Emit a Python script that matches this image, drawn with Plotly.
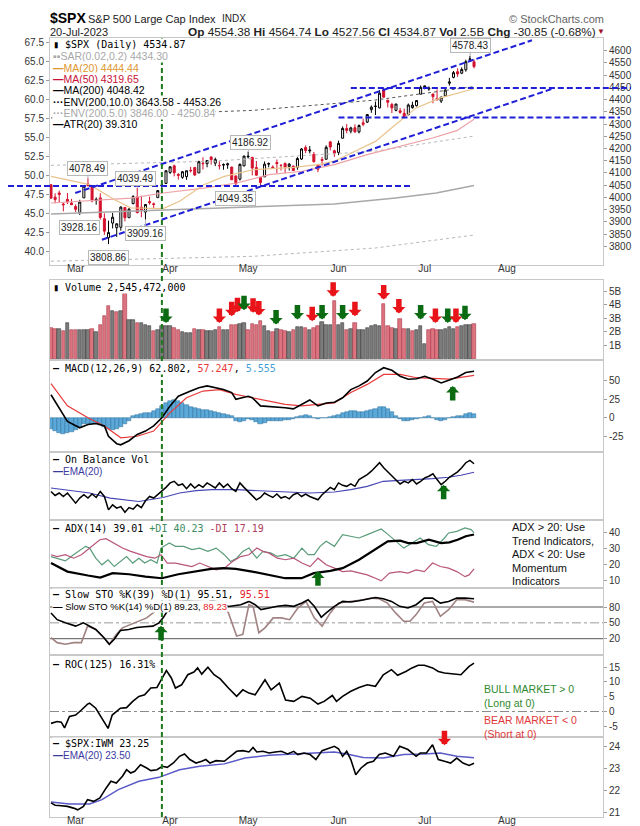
import plotly.graph_objects as go
import pandas as pd

# ---------------- calendar (trading days) ----------------
holidays = ["2023-04-07", "2023-05-29", "2023-06-19", "2023-07-04"]
cal = [d for d in pd.bdate_range("2023-02-21", "2023-08-31") if d.strftime("%Y-%m-%d") not in holidays]
n_days = 104
day_idx = list(range(n_days))
month_labels = ["Mar", "Apr", "May", "Jun", "Jul", "Aug"]
month_idx = [next(i for i, d in enumerate(cal) if d.month == m) for m in (3, 4, 5, 6, 7, 8)]

# ---------------- $SPX daily OHLC ----------------
opens = [4052, 4001, 4018, 3973, 3992, 3977, 3963, 3938, 3998, 4055,
         4048, 3987, 3998, 3913, 3835, 3895, 3876, 3878, 3959, 3917,
         3975, 4002, 3960, 3940, 3983, 3974, 3999, 4046, 4057, 4102,
         4129, 4094, 4082, 4085, 4111, 4122, 4100, 4140, 4138, 4165,
         4140, 4130, 4132, 4133, 4124, 4088, 4075, 4129, 4166, 4164,
         4122, 4082, 4084, 4136, 4124, 4143, 4132, 4139, 4127, 4128,
         4123, 4157, 4204, 4190, 4176, 4132, 4155, 4156, 4227, 4191,
         4184, 4242, 4282, 4271, 4285, 4268, 4305, 4308, 4359, 4372,
         4366, 4440, 4397, 4380, 4356, 4354, 4344, 4338, 4367, 4375,
         4422, 4450, 4443, 4423, 4405, 4394, 4415, 4467, 4491, 4514,
         4508, 4522, 4565, 4554.38]
highs = [4052, 4017, 4028, 3979, 4018, 3994, 3972, 3990, 4048, 4078.49,
         4050, 4000, 4017, 3935, 3905, 3937, 3894, 3964, 3959, 3956,
         4009, 4039.49, 4007, 3972, 4003, 3979, 4030, 4057, 4110, 4128,
         4134, 4099, 4108, 4109, 4125, 4125, 4150, 4164, 4152, 4169,
         4163, 4148, 4139, 4142, 4126, 4089, 4139, 4170, 4186.92, 4164,
         4149, 4083, 4147, 4143, 4131, 4155, 4133, 4143, 4141, 4130,
         4165, 4202, 4213, 4210, 4186, 4133, 4166, 4213, 4231, 4195,
         4232, 4290, 4300, 4289, 4299, 4298, 4322, 4340, 4376, 4392,
         4439, 4448, 4400, 4387, 4382, 4366, 4363, 4384, 4391, 4398,
         4458, 4456, 4454, 4423, 4442, 4412, 4443, 4489, 4517, 4528,
         4532, 4563, 4578.43, 4564.74]
lows = [3995, 3976, 3979, 3943, 3973, 3969, 3940, 3928.16, 3998, 4045,
        3980, 3970, 3909, 3847, 3808.86, 3873, 3838, 3864, 3902, 3917,
        3971, 3937, 3919, 3909.16, 3970, 3952, 3999, 4033, 4056, 4096,
        4086, 4073, 4076, 4072, 4102, 4087, 4100, 4114, 4123, 4134,
        4128, 4114, 4113, 4117, 4071, 4049.35, 4069, 4127, 4159, 4090,
        4088, 4048.28, 4084, 4123, 4116, 4099, 4110, 4099, 4110, 4109,
        4113, 4153, 4181, 4180, 4142, 4103, 4130, 4155, 4192, 4166,
        4173, 4242, 4262, 4262, 4264, 4262, 4291, 4304, 4346, 4337,
        4364, 4408, 4368, 4345, 4352, 4342, 4328, 4336, 4363, 4372,
        4422, 4442, 4436, 4385, 4397, 4386, 4411, 4457, 4487, 4493,
        4504, 4514, 4557, 4527.56]
closes = [3997, 3991, 4012, 3970, 3982, 3970, 3951, 3981, 4046, 4048,
          3986, 3992, 3918, 3862, 3856, 3919, 3892, 3960, 3917, 3952,
          4003, 3937, 3949, 3971, 3978, 3971, 4028, 4051, 4109, 4125,
          4101, 4090, 4105, 4109, 4109, 4092, 4146, 4138, 4151, 4155,
          4155, 4130, 4134, 4137, 4072, 4056, 4135, 4169, 4168, 4120,
          4091, 4061, 4136, 4138, 4119, 4138, 4131, 4124, 4136, 4110,
          4159, 4198, 4192, 4193, 4146, 4115, 4151, 4205, 4206, 4180,
          4221, 4282, 4274, 4284, 4268, 4294, 4299, 4339, 4369, 4373,
          4426, 4410, 4389, 4366, 4382, 4348, 4329, 4378, 4377, 4396,
          4450, 4456, 4447, 4412, 4399, 4410, 4439, 4472, 4510, 4505,
          4523, 4555, 4566, 4534.87]
prev_close_before = 4079.09
chg_last, chg_pct_last = -30.85, -0.68
volume_b = [2.26, 2.19, 2.19, 2.01, 2.63, 2.09, 2.14, 2.14, 2.09, 2.14,
            2.19, 1.94, 2.51, 3.13, 3.87, 3.5, 3.43, 3.5, 4.86, 2.88,
            2.83, 2.63, 2.63, 2.51, 2.39, 2.01, 2.14, 2.39, 2.43, 2.39,
            2.26, 2.14, 1.94, 1.89, 1.89, 2.19, 2.09, 2.14, 2.01, 2.01,
            2.09, 2.33, 2.14, 2.09, 2.51, 2.51, 2.58, 2.63, 2.14, 2.55,
            2.51, 2.76, 2.39, 2.01, 1.94, 2.19, 2.14, 2.01, 1.94, 2.14,
            2.33, 2.33, 2.26, 2.14, 2.26, 2.39, 2.68, 2.51, 2.51, 4.25,
            2.51, 2.63, 2.14, 2.19, 2.63, 2.14, 2.09, 2.26, 2.39, 2.51,
            2.39, 4.07, 2.39, 2.26, 2.19, 2.95, 2.16, 2.16, 2.04, 2.1,
            2.41, 1.05, 2.1, 2.2, 2.1, 2.1, 2.2, 2.3, 2.2, 2.3,
            2.4, 2.5, 2.5, 2.545472]
for arr in (opens, highs, lows, closes, volume_b):
    assert len(arr) == n_days

# ---------------- price overlays (day index, value) ----------------
ma20_x = [0, 9.4, 15.4, 19.4, 27.3, 31.3, 37.2, 42.2, 49.2, 59.1, 65, 69, 74, 79, 82.9, 88.9, 94.8, 103]
ma20_y = [4086, 4052, 3991, 3957, 3954, 3984, 4052, 4086, 4113, 4123, 4134, 4148, 4189, 4229, 4284, 4366, 4407, 4444.44]
ma50_x = [0, 19.4, 27.3, 37.2, 45.2, 53.1, 61.1, 69, 77, 84.9, 92.9, 98.8, 103]
ma50_y = [3977, 3997, 4018, 4038, 4059, 4093, 4107, 4134, 4175, 4209, 4243, 4273, 4319.65]
ma200_x = [0, 29.3, 49.2, 69, 83.9, 93.8, 103]
ma200_y = [3932, 3950, 3960, 3973, 3998, 4018, 4048.42]
env5_up_x = [0, 39.2, 78.9, 103]
env5_up_y = [4131, 4148, 4189, 4250.84]
env5_lo_x = [0, 49.2, 78.9, 103]
env5_lo_y = [3739, 3759, 3793, 3846.00]
env10_up_x = [0, 49.2, 78.9, 103]
env10_up_y = [4325, 4356, 4398, 4453.26]
env10_lo_last = 3643.58
sar_last = 4434.30
atr_last = 39.310

# author-drawn trend lines (day index, price)
channel_upper = [(5.9, 4018), (117.1, 4642.5)]
channel_lower = [(12.4, 3827), (122.6, 4447)]
level_prices = [4047, 4447, 4327]

# ---------------- MACD ----------------
macd_x = [0, 2, 4, 7, 9, 11, 13, 14, 16, 17, 19, 21, 23, 25, 27, 29, 31, 34, 36, 38, 40, 42, 44, 45, 48, 49,
          51, 54, 57, 59, 61, 63, 65, 67, 69, 71, 73, 75, 77, 79, 81, 83, 85, 87, 89, 91, 93, 95, 97, 99, 101, 103]
macd_y = [31, 13, -5, -13.5, -9, -7.7, -11, -25, -35, -36.5, -31, -22.5, -18, -11, 0, 16, 29, 36, 40.5, 43, 40.5,
          38, 34, 25, 29, 27, 16, 15, 13.5, 12, 18, 24, 16, 20, 21, 27, 38, 43, 49.5, 61, 67.5, 64, 56, 52, 52.7,
          56, 52, 47, 51, 55, 61, 62.802]
signal_x = [0, 4, 9, 13, 17, 21, 25, 29, 33, 37, 41, 45, 49, 53, 57, 61, 65, 69, 73, 77, 81, 85, 89, 93, 97, 103]
signal_y = [46, 16, 0, -11, -27, -25, -18, 7, 27, 36, 38, 31.5, 27, 22.5, 18, 16, 18, 20, 34, 45, 58.5, 58.5, 54,
            52.7, 52, 57.247]
macd_hist = [-15, -18, -20, -22, -21, -19, -16, -12, -9, -8,
             -8, -9, -10, -12, -15, -16, -15, -12, -9, -5,
             2, 4, 5, 6, 7, 9, 12, 16, 20, 23,
             24, 22, 20, 17, 15, 13, 12, 11, 10, 9,
             8, 7, 5, 4, 2, -5, -6, -4, -2, -3,
             -6, -8, -7, -5, -5, -4, -4, -3, -3, -2,
             1, 3, 4, 2, -1, -2, -1, 0, 1, 2,
             4, 6, 8, 9, 9, 8, 8, 9, 11, 12,
             14, 15, 12, 8, 3, -2, -4, -4, -3, -2,
             0, 1, 2, 0, -3, -4, -3, -1, 1, 2,
             3, 5, 7, 5.555]

# ---------------- On Balance Volume (relative units) ----------------
obv = [28.3, 24.3, 26.7, 23.3, 26.7, 21.7, 16.7, 21.7, 25, 21.7,
       25.7, 22.3, 28.3, 23.3, 10, 15, 11.7, 13.3, 7.7, 12.3,
       10.7, 15, 12.3, 19, 23.3, 21.7, 25, 28.3, 32.3, 36.7,
       38.3, 34.3, 35.7, 31, 35.7, 31.7, 35, 32.3, 36.7, 34.3,
       31.7, 36.7, 32.3, 35.7, 31, 28.3, 36.7, 32.3, 28.3, 23.3,
       20, 22.3, 26.7, 24.3, 22.3, 25.7, 21.7, 23.3, 21, 25,
       26.7, 23.3, 25.7, 23.3, 21.7, 20, 25, 29, 32.3, 30,
       36.7, 34.3, 33.3, 35.7, 33.3, 40, 42.3, 45, 48.3, 52.3,
       56.7, 51.7, 47.7, 43.3, 40, 35.7, 38.3, 36.7, 40, 35.7,
       38.3, 41.7, 43.3, 45.7, 40, 35, 38.3, 42.3, 45, 47.7,
       51.7, 56.7, 59, 55.7]
obv_ema_x = [0, 9.4, 14.4, 21.4, 27.3, 31.3, 35.3, 39.2, 45.2, 51.1, 57.1, 63.1, 69, 73, 77, 80.9, 84.9, 88.9,
             92.9, 96.8, 99.8, 103]
obv_ema_y = [31.7, 26.7, 21.7, 18.3, 22.3, 26.7, 29, 30, 30, 29, 27.3, 26.7, 27.7, 30, 33.3, 38.3, 39.3, 40, 41,
             42.3, 44.3, 47.3]

# ---------------- ADX ----------------
adx_x = [0, 4, 9, 12, 15, 19, 23, 27, 31, 35, 39, 42, 45, 49, 53, 57, 61, 64, 68, 71, 75, 79, 82, 85, 87, 89, 92,
         95, 97, 99, 101, 103]
adx_y = [20.9, 15.5, 13, 11.7, 14.5, 13.8, 12.3, 11.3, 13.8, 15.5, 17.2, 17.7, 17.2, 15.5, 13.4, 11.3, 11.3, 14.5,
         16, 17.7, 23, 29.4, 34.7, 35.1, 33.6, 33.6, 35.7, 33.6, 34, 35.7, 37.9, 39.01]
pdi_x = [0, 1.5, 3.5, 5.5, 8.4, 9.4, 10.9, 12.4, 13.9, 15.4, 16.9, 18.4, 19.9, 21.4, 22.8, 24.3, 25.8, 26.8, 28.8,
         30.3, 32.3, 34.3, 36.2, 38.2, 40.2, 42.2, 43.7, 45.2, 46.7, 48.2, 50.1, 51.6, 53.6, 55.1, 57.1, 59.1, 61.1,
         62.6, 64.1, 65.5, 67, 69, 71, 73, 75, 77, 79, 80.4, 81.9, 83.9, 85.9, 87.9, 89.9, 91.9, 93.8, 95.8, 96.8,
         98.8, 100.8, 102.3, 103]
pdi_y = [25, 24, 22.3, 26.2, 31.5, 30.4, 24, 19.8, 23, 18.7, 21.9, 25, 20.9, 24, 20.9, 23, 20.9, 30.4, 33.6, 31.5,
         31.5, 29.4, 30.4, 28.3, 30.4, 26.2, 21.9, 24, 28.3, 30.4, 24, 28.3, 27.2, 25.1, 26.2, 24, 30.4, 26.2, 26.2,
         31.5, 34.7, 31.5, 38.9, 37.9, 36.8, 38.9, 41, 42.5, 39.4, 34.7, 30.4, 33.6, 36.8, 32.6, 31.5, 36.8, 40, 41,
         43.2, 42.1, 40.23]
mdi_x = [0, 1.5, 3.5, 5.5, 7.4, 9.4, 11.9, 13.4, 15.4, 17.4, 19.4, 21.4, 23.3, 25.3, 26.8, 28.3, 30.3, 32.3, 34.3,
         36.2, 38.2, 40.2, 42.2, 44.2, 46.2, 48.2, 50.1, 51.6, 53.1, 55.1, 57.1, 59.1, 61.1, 63.1, 65, 67, 69, 71,
         73, 75, 77, 79, 80.4, 82.4, 84.9, 86.9, 88.9, 90.9, 92.9, 94.8, 96.8, 98.8, 100.8, 101.8, 103]
mdi_y = [26.2, 25, 26.2, 24, 26.2, 30.4, 35.7, 36.4, 33.6, 30.4, 28.3, 26.6, 25, 24, 26.2, 20.9, 20.9, 19.8, 18.7,
         20.9, 18.7, 16.6, 17.7, 21.9, 25, 26.2, 30.4, 28.3, 27.2, 24, 23, 24, 20.9, 18.7, 24, 19.8, 17.7, 15.5,
         16, 14.5, 13.4, 11.3, 9.6, 14.5, 15.5, 14.5, 16.6, 15.5, 20.9, 18.7, 17.7, 15.5, 12.3, 13.4, 17.19]

# ---------------- Slow stochastics ----------------
sto39_x = [0, 1.5, 3.5, 6, 7.9, 9.4, 10.9, 12.9, 14.2, 15.4, 16.9, 18.9, 20.9, 22.8, 24.8, 26.3, 27.3, 28.3, 29.3,
           31.3, 34.3, 37.2, 40.2, 43.2, 46.2, 48.2, 49.7, 51.1, 53.1, 55.1, 57.1, 59.1, 61.1, 62.6, 64.1, 65.8, 67,
           69, 71, 73, 75, 77, 79, 80.9, 82.9, 84.9, 86.9, 88.9, 90.9, 92.9, 94.8, 96.8, 98.8, 100.8, 103]
sto39_y = [68.8, 56, 50, 43.8, 50, 43.8, 37.5, 21.9, 9.4, 18.8, 35.6, 37.5, 41.3, 42.5, 43.8, 50, 59.4, 71.9, 84,
           90.6, 93.8, 97, 90.6, 81, 84.4, 90.6, 84.4, 75, 78, 81.3, 83, 81.3, 87.5, 93.8, 81.3, 60.6, 68.8, 81.3,
           90.6, 89.4, 91.9, 95.6, 98.1, 95.6, 90.6, 81.3, 78.1, 84.4, 96.9, 96.9, 87.5, 90.6, 96.9, 96.9, 95.51]
sto14_x = [0, 1.5, 3.5, 5.5, 7.4, 8.9, 10.9, 12.9, 14.2, 15.9, 17.4, 19.4, 21.4, 23.3, 25.3, 26.8, 29.3, 32.3,
           35.3, 38.2, 41.2, 43.2, 45.2, 46.7, 48.2, 49.2, 50.6, 52.1, 54.1, 56.1, 58.1, 60.1, 62.1, 64.1, 66, 68,
           70, 72, 74, 76, 78, 79.9, 81.9, 83.9, 85.9, 87.4, 88.9, 90.9, 92.9, 94.8, 96.8, 98.8, 100.8, 103]
sto14_y = [21.9, 12.5, 9.4, 12.5, 12.5, 43.8, 37.5, 21.9, 9.4, 28, 40.6, 46.9, 53, 59.4, 71.9, 80, 95, 90, 92, 95,
           85, 68.8, 25, 28, 84.4, 81.3, 31.3, 40.6, 59.4, 59.4, 56, 78, 90.6, 59.4, 43.8, 68.8, 87.5, 89.4, 90.6,
           93.8, 96.9, 95.6, 87.5, 68.8, 53, 53, 65.6, 87.5, 90.6, 62.5, 75, 93.8, 93.8, 89.23]

# ---------------- ROC(125) ----------------
roc_x = [0, 1.5, 2.5, 3.3, 4.5, 6, 7.4, 8.9, 9.4, 10.9, 12.4, 13.9, 14.9, 15.9, 16.9, 18.4, 19.9, 21.4, 22.8, 24.3,
         25.8, 27.1, 28.1, 29.3, 30.3, 31.8, 33.3, 34.8, 35.7, 36.7, 38.2, 39.7, 41.2, 43.2, 45.2, 46.7, 48.2, 49.7,
         52.1, 53.6, 55.6, 57.1, 59.1, 61.1, 63.1, 65, 66.5, 68.5, 69.5, 71, 73, 75, 77, 79, 80.9, 82.9, 84.4, 86.4,
         87.9, 89.4, 90.9, 92.9, 94.3, 95.8, 97.8, 99.8, 101.8, 103]
roc_y = [-4, -3.4, -3.6, -5.5, -1.7, -1.2, 0.5, 2.5, 2.8, 1.1, -2.3, -5.7, -1.2, 0, 1.1, 1.3, 3.4, 5.1, 5.6, 7.9,
         8.1, 11.3, 13.8, 11.3, 7.9, 9, 12.4, 13.3, 14.7, 12.6, 14.9, 12.4, 11, 7.9, 5.1, 7.3, 6.2, 5.6, 10.7, 7.3,
         9.6, 3.9, 3.4, 5.1, 4.5, 2.5, 3.4, 5.4, 3.4, 5.1, 6.8, 8.1, 9, 8.5, 12.4, 14.1, 12.2, 13.5, 14.7, 15.6,
         15.6, 14.7, 13.5, 13, 12.6, 12.4, 15.2, 16.31]

# ---------------- $SPX:IWM ratio ----------------
iwm_x = [0, 1, 2.5, 4, 5.5, 6.5, 7.9, 8.9, 10.4, 11.9, 13.4, 14.6, 15.9, 17.4, 18.4, 19.4, 20.4, 21.8, 23.3, 24.3,
         25.8, 27.1, 28.3, 29.8, 31.3, 32.5, 33.8, 35.3, 36.7, 37.7, 38.7, 40.2, 42.2, 43.7, 45.2, 46.7, 48.2, 49.2,
         50.1, 51.6, 53.1, 54.6, 56.1, 57.6, 59.1, 60.1, 61.6, 63.1, 64.5, 66, 67.5, 69, 70, 71, 72, 73, 74.2, 75.5,
         77, 78.5, 79.9, 81.4, 83.4, 84.9, 86.9, 88.9, 89.9, 91.4, 92.9, 94.3, 95.8, 97.3, 98.8, 100.3, 101.8, 103]
iwm_y = [21.42, 21.31, 21.29, 21.26, 21.18, 21.1, 21.26, 21.57, 21.49, 21.65, 22.1, 22.42, 22.34, 22.65, 22.95,
         22.8, 22.88, 23.18, 23.03, 22.91, 22.95, 23.11, 23.06, 23.26, 23.57, 23.68, 23.42, 23.26, 23.34, 23.42,
         23.26, 23.37, 23.34, 23.57, 23.8, 23.83, 23.77, 23.98, 23.77, 23.8, 23.72, 23.77, 23.8, 23.68, 23.8, 23.65,
         23.72, 23.65, 23.42, 23.83, 23.92, 24.03, 23.92, 23.57, 23.8, 23.42, 22.72, 23.03, 23.26, 23.34, 23.65,
         23.72, 23.57, 24.03, 23.88, 23.57, 23.72, 23.72, 24.1, 23.42, 23.34, 23.26, 23.49, 23.26, 23.15, 23.25]
iwm_ema_x = [0, 4.5, 9.4, 12.4, 16.4, 21.4, 26.3, 31.3, 36.2, 42.2, 47.2, 53.1, 59.1, 65, 69, 72, 76, 80.9, 85.9,
             90.9, 94.8, 98.8, 103]
iwm_ema_y = [21.46, 21.37, 21.37, 21.57, 22.03, 22.42, 22.6, 22.95, 23.11, 23.22, 23.49, 23.62, 23.68, 23.72, 23.77,
             23.68, 23.52, 23.49, 23.65, 23.68, 23.72, 23.57, 23.50]

# ---------------- author marks ----------------
breakout_day = 27
price_labels = [(9, "high", -10, 0), (21, "high", -9, -2), (7, "low", 13, 0), (23, "low", 14, 0),
                (14, "low", 13, 0), (48, "high", -9, 2), (45, "low", 13, 0), (102, "high", -10, 1)]
vol_arrows = [(28, 2.63, "g"), (41, 2.63, "r"), (44, 3.13, "r"), (45.4, 3.43, "r"), (47, 3.58, "g"),
              (49.2, 3.38, "r"), (50.6, 3.18, "r"), (54.8, 2.51, "g"), (60, 2.88, "g"), (63.6, 2.76, "r"),
              (66, 2.88, "g"), (68.7, 4.57, "r"), (71, 2.88, "g"), (74, 3.13, "r"), (81, 4.37, "r"),
              (84.7, 3.33, "r"), (90, 2.88, "g"), (93.6, 2.63, "r"), (96.6, 2.63, "g"), (98.6, 2.63, "r"),
              (100.8, 2.83, "g")]
# (axis suffix, day index, tip value, up?, colour)
panel_arrows = [("3", 97.8, 42.8, True, "g"), ("4", 95.6, 35, True, "g"), ("5", 65, 15.7, True, "g"),
                ("6", 26.8, 44.6, True, "g"), ("8", 95.8, 24.08, False, "r")]

# ================= figure =================
W, H = 640, 826
L, R, T, B = 42, 595, 30, 809
XMIN, XMAX = -0.243, 134.4
MONO = "DejaVu Sans Mono"
SANS = "Liberation Sans, Arial, sans-serif"
RED_ARROW, GREEN_ARROW = "#e8141a", "#0b6b12"


def fx(px):
    return (px - L) / (R - L)


def fy(py):
    return (B - py) / (B - T)


def ix(i):
    return (i - XMIN) / (XMAX - XMIN)


fig = go.Figure()


def line(x, y, color, width=1, dash=None, ax=""):
    fig.add_trace(go.Scatter(x=x, y=y, mode="lines", line=dict(color=color, width=width, dash=dash),
                             xaxis="x" + ax, yaxis="y" + ax, hoverinfo="skip", showlegend=False))


# ---- price panel ----
line(env5_up_x, env5_up_y, "#b8b8b8", 1, "dot")
line(env5_lo_x, env5_lo_y, "#b8b8b8", 1, "dot")
line(env10_up_x, env10_up_y, "#555555", 1, "dot")
line(ma200_x, ma200_y, "#a8a8a8", 1.5)
line(ma50_x, ma50_y, "#eea0a6", 1.2)
line(ma20_x, ma20_y, "#e9c38c", 1.2)

fig.add_trace(go.Candlestick(
    x=day_idx, open=opens, high=highs, low=lows, close=closes,
    increasing=dict(line=dict(color="#000000", width=1), fillcolor="#ffffff"),
    decreasing=dict(line=dict(color="#d4122e", width=1), fillcolor="#d4122e"),
    whiskerwidth=0, xaxis="x", yaxis="y", hoverinfo="skip", showlegend=False))

fig.add_trace(go.Scatter(x=[day_idx[-1]], y=[atr_last], mode="markers", marker=dict(opacity=0),
                         xaxis="x", yaxis="y9", hoverinfo="skip", showlegend=False))

# ---- volume ----
vol_colors, vol_lines = [], []
for i in range(n_days):
    pc = prev_close_before if i == 0 else closes[i - 1]
    if closes[i] < pc:
        vol_colors.append("#dc7480"); vol_lines.append("#a83846")
    else:
        vol_colors.append("#7c7c7c"); vol_lines.append("#3a3a3a")
fig.add_trace(go.Bar(x=day_idx, y=volume_b, marker=dict(color=vol_colors, line=dict(color=vol_lines, width=0.6)),
                     width=0.85, xaxis="x2", yaxis="y2", hoverinfo="skip", showlegend=False))

# ---- MACD ----
fig.add_trace(go.Bar(x=day_idx, y=macd_hist, marker=dict(color="#5aa9d8", line=dict(color="#2a6d9a", width=0.5)),
                     width=1.0, xaxis="x3", yaxis="y3", hoverinfo="skip", showlegend=False))
line(signal_x, signal_y, "#e83a3a", 1.2, ax="3")
line(macd_x, macd_y, "#000000", 1.6, ax="3")

# ---- OBV ----
line(obv_ema_x, obv_ema_y, "#4646b4", 1.2, ax="4")
line(day_idx, obv, "#000000", 1.5, ax="4")

# ---- ADX ----
line(pdi_x, pdi_y, "#5a9c7a", 1.2, ax="5")
line(mdi_x, mdi_y, "#b8557a", 1.2, ax="5")
line(adx_x, adx_y, "#000000", 2.2, ax="5")

# ---- STO ----
line(sto14_x, sto14_y, "#a08282", 1.6, ax="6")
line(sto39_x, sto39_y, "#000000", 1.6, ax="6")

# ---- ROC ----
line(roc_x, roc_y, "#000000", 1.6, ax="7")

# ---- SPX:IWM ----
line(iwm_ema_x, iwm_ema_y, "#5a5ac8", 1.5, ax="8")
line(iwm_x, iwm_y, "#000000", 1.6, ax="8")

# ---- axes ----
border = "#c8c8c8"
tickfont = dict(family=SANS, size=10, color="#333")
panels = [
    ("", 30, 257, [3723.5, 4651.9], list(range(3800, 4601, 50)), None),
    ("2", 272, 352, [-0.111, 5.815], [1, 2, 3, 4, 5], ["1B", "2B", "3B", "4B", "5B"]),
    ("3", 352, 444, [-46.2, 77.9], [-25, 0, 25, 50], ["-25", "0", "25", "50"]),
    ("4", 444, 512, [0, 67.3], [], []),
    ("5", 512, 580, [5.1, 48.2], [10, 20, 30, 40], None),
    ("6", 580, 647, [-10.9, 116], [20, 50, 80], None),
    ("7", 647, 729, [-8.6, 19.05], [-5, 0, 5, 10, 15], ["-5", "0", "5", "10", "15"]),
    ("8", 729, 809, [20.77, 24.46], [21, 22, 23, 24], None),
]
layout = {}
for key, top, bot, rng, tv, tt in panels:
    ya = dict(domain=[fy(bot), fy(top)], range=rng, side="right", anchor="x" + key, tickmode="array",
              tickvals=tv, ticks="outside", ticklen=3, tickcolor="#9a9a9a", tickfont=tickfont,
              showline=True, mirror=True, linecolor=border, linewidth=1, showgrid=False, zeroline=False,
              automargin=False, fixedrange=True)
    if tt is not None:
        ya["ticktext"] = tt
    layout["yaxis" + key] = ya
    layout["xaxis" + key] = dict(domain=[0, 1], range=[XMIN, XMAX], anchor="y" + key, tickmode="array",
                                 tickvals=month_idx, ticktext=month_labels, ticks="", ticklabelstandoff=-6,
                                 showticklabels=key in ("", "8"), tickfont=tickfont, showline=True,
                                 mirror=True, linecolor=border, linewidth=1, showgrid=False, zeroline=False,
                                 automargin=False, fixedrange=True)
layout["xaxis"]["rangeslider"] = dict(visible=False)
layout["yaxis9"] = dict(overlaying="y", side="left", anchor="x", range=[38.2, 68.03],
                        tickvals=[40 + 2.5 * k for k in range(12)],
                        ticktext=["%.1f" % (40 + 2.5 * k) for k in range(12)],
                        ticks="outside", ticklen=3, tickcolor="#9a9a9a", tickfont=tickfont,
                        showline=False, showgrid=False, zeroline=False, automargin=False, fixedrange=True)

fig.update_layout(width=W, height=H, margin=dict(l=L, r=W - R, t=T, b=H - B, pad=0),
                  paper_bgcolor="white", plot_bgcolor="white", showlegend=False, bargap=0,
                  **layout)

# ---- shapes: trend lines, levels, breakout line, reference lines ----
blue = "#1f1fd8"
for (x0, y0), (x1, y1) in (channel_upper, channel_lower):
    fig.add_shape(type="line", xref="x", yref="y", x0=x0, y0=y0, x1=x1, y1=y1,
                  line=dict(color=blue, width=2, dash="6px,3px"), layer="above")
level_spans = [(fx(0), ix(87.4)), (ix(73), fx(623)), (ix(70), fx(612))]
for p, (a, b) in zip(level_prices, level_spans):
    fig.add_shape(type="line", xref="paper", yref="y", x0=a, x1=b, y0=p, y1=p,
                  line=dict(color=blue, width=2, dash="6px,3px"), layer="above")
fig.add_shape(type="line", xref="x", yref="paper", x0=breakout_day, x1=breakout_day, y0=0, y1=1,
              line=dict(color="#1b7a1b", width=2, dash="5px,3px"), layer="above")
for v, st in ((80, "solid"), (20, "solid"), (50, "dashdot")):
    fig.add_shape(type="line", xref="paper", yref="y6", x0=0, x1=1, y0=v, y1=v,
                  line=dict(color="#555" if st == "solid" else "#999", width=1, dash=st), layer="below")
fig.add_shape(type="line", xref="paper", yref="y7", x0=0, x1=1, y0=0, y1=0,
              line=dict(color="#8a8a8a", width=1, dash="dashdot"), layer="below")

# ---- price labels ----
for d, kind, ay, axx in price_labels:
    val = highs[d] if kind == "high" else lows[d]
    fig.add_annotation(xref="x", yref="y", x=d, y=val, text="%.2f" % val, showarrow=True, arrowhead=0,
                       arrowwidth=1, arrowcolor="#b0b0b0", ax=axx, ay=ay, bgcolor="white",
                       bordercolor="#b8b8b8", borderwidth=1, borderpad=1,
                       font=dict(family=SANS, size=10, color="#222"))


# ---- block arrows ----
def block_arrow(xa, ya, x, y, up, c):
    fig.add_annotation(xref="x" + xa, yref="y" + ya, x=x, y=y, text="", showarrow=True, arrowhead=1,
                       arrowsize=0.4, arrowwidth=5.5, arrowcolor=RED_ARROW if c == "r" else GREEN_ARROW,
                       ax=0, ay=16 if up else -16)


for d, v, c in vol_arrows:
    block_arrow("2", "2", d, v, False, c)
for k, d, v, up, c in panel_arrows:
    block_arrow(k, k, d, v, up, c)


# ---- texts ----
def txt(x, y, s, size=10, family=MONO, color="#000", xanchor="left", bg=None):
    kw = dict(xref="paper", yref="paper", x=fx(x), y=fy(y), text=s, showarrow=False, xanchor=xanchor,
              yanchor="middle", font=dict(family=family, size=size, color=color), borderpad=0)
    if bg:
        kw["bgcolor"] = bg
    fig.add_annotation(**kw)


# header
txt(41, 10, "<b>$SPX</b>", 14, SANS)
txt(79, 10.5, "S&P 500 Large Cap Index", 11, SANS, "#222")
txt(213, 11, "INDX", 10, SANS, "#222")
txt(597, 10.5, "© StockCharts.com", 11, SANS, "#666", xanchor="right")
txt(41, 23.5, "20-Jul-2023", 11, SANS, "#222")
hdr = ("<b>Op</b> %.2f <b>Hi</b> %.2f <b>Lo</b> %.2f <b>Cl</b> %.2f <b>Vol</b> %.1fB <b>Chg</b> %.2f (%.2f%%)"
       % (opens[-1], highs[-1], lows[-1], closes[-1], volume_b[-1], chg_last, chg_pct_last))
txt(589, 23.5, hdr, 11.8, SANS, "#222", xanchor="right")
txt(598, 23.5, "▼", 8, SANS, "#a01028", xanchor="right")

# price legend
W_BG = "white"
txt(44, 36.7, "▮ $SPX (Daily) %.2f" % closes[-1], 10, MONO, "#000", bg=W_BG)
txt(44, 48.1, "▪▪SAR(0.02,0.2) %.2f" % sar_last, 10.5, SANS, "#a8a8a8", bg=W_BG)
txt(44, 59.5, "<b>—</b>MA(20) %.2f" % ma20_y[-1], 10.5, SANS, "#dd962e", bg=W_BG)
txt(44, 70.9, "<b>—</b>MA(50) %.2f" % ma50_y[-1], 10.5, SANS, "#c8123a", bg=W_BG)
txt(44, 82.3, "<b>—</b>MA(200) %.2f" % ma200_y[-1], 10.5, SANS, "#000", bg=W_BG)
txt(44, 93.7, "<b>···</b>ENV(200,10.0) %.2f - %.2f" % (env10_lo_last, env10_up_y[-1]), 10.5, SANS, "#000", bg=W_BG)
txt(44, 105.1, "<b>···</b>ENV(200,5.0) %.2f - %.2f" % (env5_lo_y[-1], env5_up_y[-1]), 10.5, SANS, "#a8a8a8", bg=W_BG)
txt(44, 116.5, "<b>—</b>ATR(20) %.3f" % atr_last, 10.5, SANS, "#000", bg=W_BG)

# panel legends
txt(44, 279.5, "▮ Volume {:,}".format(int(round(volume_b[-1] * 1e9))), 10, MONO, "#000", bg=W_BG)
txt(44, 360, "<b>—</b> MACD(12,26,9) %.3f, <span style='color:#e83a3a'>%.3f</span>, "
             "<span style='color:#4aa0d6'>%.3f</span>" % (macd_y[-1], signal_y[-1], macd_hist[-1]),
    10, MONO, "#000", bg=W_BG)
txt(44, 451.7, "<b>—</b> On Balance Vol", 10, MONO, "#000", bg=W_BG)
txt(44, 463.3, "<b>—</b>EMA(20)", 10, SANS, "#3a3aa0", bg=W_BG)
txt(44, 520, "<b>—</b> ADX(14) %.2f <span style='color:#3e8c60'>+DI %.2f</span> "
             "<span style='color:#b0405e'>-DI %.2f</span>" % (adx_y[-1], pdi_y[-1], mdi_y[-1]),
    10, MONO, "#000", bg=W_BG)
txt(44, 586.7, "<b>—</b> Slow STO %%K(39) %%D(1) %.2f, <span style='color:#e8202a'>%.2f</span>"
    % (sto39_y[-1], sto39_y[-1]), 10, MONO, "#000", bg=W_BG)
txt(44, 598.5, "<b>—</b> Slow STO %%K(14) %%D(1) %.2f, <span style='color:#e8202a'>%.2f</span>"
    % (sto14_y[-1], sto14_y[-1]), 9.5, SANS, "#000", bg=W_BG)
txt(44, 656, "<b>—</b> ROC(125) %.2f%%" % roc_y[-1], 10, MONO, "#000", bg=W_BG)
txt(44, 735.7, "<b>—</b> $SPX:IWM %.2f" % iwm_y[-1], 10, MONO, "#000", bg=W_BG)
txt(44, 747.3, "<b>—</b>EMA(20) %.2f" % iwm_ema_y[-1], 10, SANS, "#3a3aa0", bg=W_BG)

# side notes
for k, s in enumerate(["ADX > 20: Use", "Trend Indicators,", "ADX < 20: Use", "Momentum", "Indicators"]):
    txt(503, 519.3 + 13.5 * k, s, 11, SANS, "#111")
txt(475, 681, "BULL MARKET > 0", 10.5, SANS, "#2f8a2f")
txt(475, 695, "(Long at 0)", 10.5, SANS, "#2f8a2f")
txt(475, 712, "BEAR MARKET < 0", 10.5, SANS, "#e0383a")
txt(475, 726, "(Short at 0)", 10.5, SANS, "#e0383a")

fig.write_html("out.html")
